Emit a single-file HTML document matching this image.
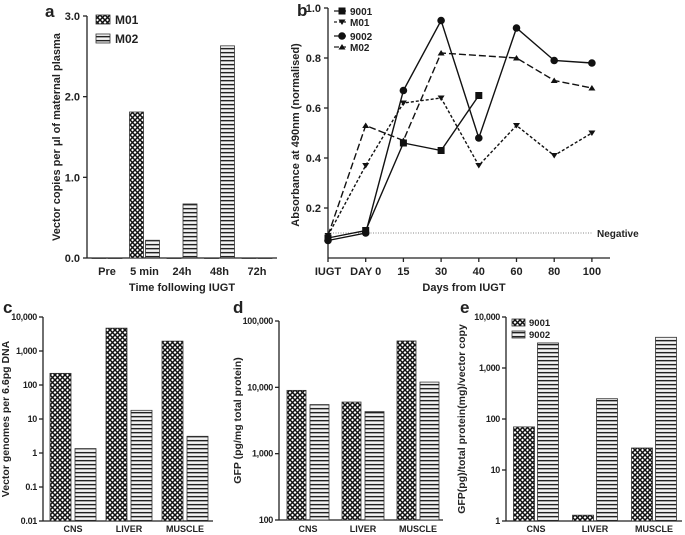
<!DOCTYPE html>
<html><head><meta charset="utf-8"><style>
html,body{margin:0;padding:0;background:#fff}
svg{display:block;font-family:"Liberation Sans",sans-serif}
text{font-weight:bold;fill:#222}
</style></head><body>
<svg id="fig" width="685" height="535" viewBox="0 0 685 535">
<defs>
<pattern id="hx" width="5" height="5" patternUnits="userSpaceOnUse">
<rect width="5" height="5" fill="#fff"/>
<path d="M0,0L5,5M5,0L0,5" stroke="#111" stroke-width="1.5"/>
</pattern>
<pattern id="hs" width="4" height="4" patternUnits="userSpaceOnUse">
<rect width="4" height="4" fill="#ddd"/>
<rect y="0" width="4" height="1.3" fill="#222"/>
<rect y="2.3" width="4" height="1" fill="#fff"/>
</pattern>
</defs>
<g id="root"></g>
</svg>
<script>
// Panel a data
const aCats = ["Pre","5 min","24h","48h","72h"];
const aM01 = [0, 1.81, 0, 0, 0];
const aM02 = [0, 0.22, 0.67, 2.63, 0];
const aTicks = [0, 1, 2, 3];
const aTickLabels = ["0.0","1.0","2.0","3.0"];
// Panel b data
const bCats = ["IUGT","DAY 0","15","30","40","60","80","100"];
const b9001 = [0.08, 0.11, 0.46, 0.43, 0.65, null, null, null];
const b9002 = [0.07, 0.10, 0.67, 0.95, 0.48, 0.92, 0.79, 0.78];
const bM01 = [0.09, 0.37, 0.62, 0.64, 0.37, 0.53, 0.41, 0.50];
const bM02 = [0.09, 0.53, 0.47, 0.82, null, 0.80, 0.71, 0.68];
const bNegative = 0.1;
const bTicks = [0.2, 0.4, 0.6, 0.8, 1.0];
const bTickLabels = ["0.2","0.4","0.6","0.8","1.0"];
// Panels c,d,e
const tissues = ["CNS","LIVER","MUSCLE"];
const c9001 = [220, 4700, 1950];
const c9002 = [1.35, 18, 3.1];
const cTickLabels = ["0.01","0.1","1","10","100","1,000","10,000"];
const d9001 = [9000, 6000, 50000];
const d9002 = [5500, 4300, 12000];
const dTickLabels = ["100","1,000","10,000","100,000"];
const e9001 = [70, 1.3, 27];
const e9002 = [3100, 250, 4000];
const eTickLabels = ["1","10","100","1,000","10,000"];

const NS="http://www.w3.org/2000/svg";
const root=document.getElementById('root');
function mk(tag,attrs,parent,txt){const e=document.createElementNS(NS,tag);for(const k in attrs)e.setAttribute(k,attrs[k]);if(txt!==undefined)e.textContent=txt;(parent||root).appendChild(e);return e;}
function line(x1,y1,x2,y2,name,extra){const e=mk('line',Object.assign({x1,y1,x2,y2,stroke:'#222','stroke-width':1.3},extra||{}));


return e;}
function txt(x,y,s,size,anchor,name,extra){const e=mk('text',Object.assign({x,y,'font-size':size,'text-anchor':anchor},extra||{}),root,s);


return e;}
function rect(x,y,w,h,fill,name){const e=mk('rect',{x,y,width:w,height:Math.max(h,0.5),fill,stroke:'#333','stroke-width':0.8});


return e;}

// panel letters
[["a",45,17],["b",297,16],["c",3,313],["d",233,313],["e",460,313]].forEach(p=>{
 const t=txt(p[1],p[2],p[0],17,'start','panel-label-'+p[0]);
});

// ===== Panel a =====
(function(){
 const x0=87,y0=258,x1=277,yTop=16,ymax=3;
 const ya=v=>y0-(v/ymax)*(y0-yTop);
 const xc=i=>107+i*37.5;
 line(x0,yTop,x0,y0,'a-y-axis');line(x0,y0,x1,y0,'a-x-axis');
 aTicks.forEach((t,i)=>{line(x0-4,ya(t),x0,ya(t),'a-y-tick');txt(x0-7,ya(t)+4,aTickLabels[i],11,'end','a-y-tick-label');});
 aCats.forEach((c,i)=>{
  rect(xc(i)-15,ya(aM01[i]),14,y0-ya(aM01[i]),'url(#hx)','a-bar-m01-'+i);
  rect(xc(i)+1,ya(aM02[i]),14,y0-ya(aM02[i]),'url(#hs)','a-bar-m02-'+i);
  txt(xc(i),275,c,11,'middle','a-x-tick-label');
 });
 txt(182,291,"Time following IUGT",11,'middle','a-x-axis-title');
 txt(0,0,"Vector copies per \u03bcl of maternal plasma",11,'middle','a-y-axis-title',{transform:'translate(60,137) rotate(-90)'});
 rect(96,15,14,9,'url(#hx)','a-legend-m01-swatch');txt(115,24,"M01",12,'start','a-legend-m01');
 rect(96,34,14,9,'url(#hs)','a-legend-m02-swatch');txt(115,43,"M02",12,'start','a-legend-m02');
})();

// ===== Panel b =====
(function(){
 const x0=328,y0=258,x1=610;
 const yb=v=>y0-v*250;
 const xb=i=>328+i*37.7;
 line(x0,yb(1.0),x0,y0,'b-y-axis');line(x0,y0,x1,y0,'b-x-axis');
 bTicks.forEach((t,i)=>{line(x0-4,yb(t),x0,yb(t),'b-y-tick');txt(x0-7,yb(t)+4,bTickLabels[i],11,'end','b-y-tick-label');});
 bCats.forEach((c,i)=>{line(xb(i),y0,xb(i),y0+4,'b-x-tick');txt(xb(i),275,c,11,'middle','b-x-tick-label');});
 txt(464,291,"Days from IUGT",11,'middle','b-x-axis-title');
 txt(0,0,"Absorbance at 490nm (normalised)",11,'middle','b-y-axis-title',{transform:'translate(299,135) rotate(-90)'});
 line(x0,yb(bNegative),xb(7),yb(bNegative),'b-negative-line',{stroke:'#888','stroke-width':1,'stroke-dasharray':'1,1.5'});
 txt(597,yb(bNegative)+4,"Negative",10,'start','b-negative-label');
 function series(arr,name,dash,marker){
  let d='';let pen=false;
  arr.forEach((v,i)=>{if(v===null)return;d+=(d?'L':'M')+xb(i)+','+yb(v);});
  const p=mk('path',{d,fill:'none',stroke:'#111','stroke-width':1.4,'stroke-dasharray':dash});
  
  
  arr.forEach((v,i)=>{if(v===null)return;const m=marker(xb(i),yb(v));
   
   });
 }
 const sq=(x,y)=>mk('rect',{x:x-3.5,y:y-3.5,width:7,height:7,fill:'#111'});
 const ci=(x,y)=>mk('circle',{cx:x,cy:y,r:3.8,fill:'#111'});
 const dn=(x,y)=>mk('path',{d:`M${x-3.5},${y-2.5}L${x+3.5},${y-2.5}L${x},${y+3}Z`,fill:'#111'});
 const up=(x,y)=>mk('path',{d:`M${x-3.5},${y+2.5}L${x+3.5},${y+2.5}L${x},${y-3}Z`,fill:'#111'});
 series(bM02,'b-m02','7,3',up);
 series(bM01,'b-m01','3,2',dn);
 series(b9001,'b-9001','none',sq);
 series(b9002,'b-9002','none',ci);
 const lg=[["9001",11,sq,'none'],["M01",22,dn,'3,2'],["9002",36,ci,'none'],["M02",47,up,'5,2']];
 lg.forEach(l=>{const s=line(334,l[1],346,l[1],'b-legend-line',{'stroke-dasharray':l[3]});const m=l[2](342,l[1]);
  
  
  txt(350,l[1]+4,l[0],10,'start','b-legend-'+l[0]);});
})();

// ===== Log bar panels =====
function logPanel(key,x0,yTop,y0,x1,minExp,maxExp,labels,s1,s2,centers,bw,gap,title,titleX,legend){
 const yl=v=>y0-(Math.log10(v)-minExp)/(maxExp-minExp)*(y0-yTop);
 line(x0,yTop,x0,y0,key+'-y-axis');line(x0,y0,x1,y0,key+'-x-axis');
 labels.forEach((l,i)=>{const y=yl(Math.pow(10,minExp+i));line(x0-4,y,x0,y,key+'-y-tick');txt(x0-6,y+3,l,9,'end',key+'-y-tick-label',{'letter-spacing':'-0.3'});});
 tissues.forEach((t,i)=>{
  const c=centers(i);
  rect(c-gap/2-bw,yl(s1[i]),bw,y0-yl(s1[i]),'url(#hx)',key+'-bar-9001-'+t.toLowerCase());
  rect(c+gap/2,yl(s2[i]),bw,y0-yl(s2[i]),'url(#hs)',key+'-bar-9002-'+t.toLowerCase());
  txt(c,532,t,9,'middle',key+'-x-tick-label');
 });
 txt(0,0,title,10.5,'middle',key+'-y-axis-title',{transform:`translate(${titleX},${(yTop+y0)/2}) rotate(-90)`});
 if(legend){
  rect(x0+6,yTop+2,13,7,'url(#hx)',key+'-legend-9001-swatch');txt(x0+23,yTop+9,"9001",9.5,'start',key+'-legend-9001');
  rect(x0+6,yTop+14,13,7,'url(#hs)',key+'-legend-9002-swatch');txt(x0+23,yTop+21,"9002",9.5,'start',key+'-legend-9002');
 }
}
logPanel('c',43,317,521,213,-2,4,cTickLabels,c9001,c9002,i=>73+i*56,21,4,"Vector genomes per 6.6pg DNA",9,false);
logPanel('d',279,321,520,443,2,5,dTickLabels,d9001,d9002,i=>308+i*55,19,4,"GFP (pg/mg total protein)",241,false);
logPanel('e',506,317,521,682,0,4,eTickLabels,e9001,e9002,i=>536+i*59,21,3,"GFP(pg)/total protein(mg)/vector copy",465,true);
</script>
</body></html>
